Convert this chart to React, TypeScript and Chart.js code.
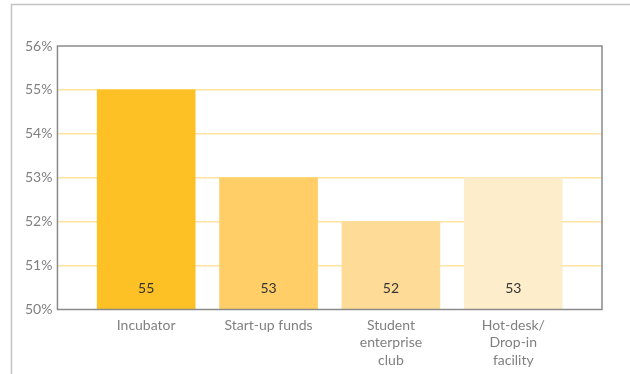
import React, { useEffect, useRef } from "react";
import { Chart, registerables } from "chart.js";

Chart.register(...registerables);

const categories: (string | string[])[] = [
  "Incubator",
  "Start-up funds",
  ["Student", "enterprise", "club"],
  ["Hot-desk/", "Drop-in", "facility"],
];
const values = [55, 53, 52, 53];
const barColors = ["#FDC125", "#FFCE66", "#FEDC98", "#FEEDCA"];
const yTicks = [50, 51, 52, 53, 54, 55, 56];

const FONT = "Lato, 'Open Sans', sans-serif";

const framePlugin = {
  id: "frame",
  beforeDraw(chart: any) {
    const ctx = chart.ctx;
    ctx.save();
    ctx.strokeStyle = "#c4c4c4";
    ctx.lineWidth = 1.5;
    ctx.beginPath();
    ctx.moveTo(11.5, chart.height);
    ctx.lineTo(11.5, 4.5);
    ctx.lineTo(chart.width, 4.5);
    ctx.stroke();
    ctx.restore();
  },
  afterDatasetsDraw(chart: any) {
    const ctx = chart.ctx;
    const a = chart.chartArea;
    ctx.save();
    ctx.strokeStyle = "#8a8a8a";
    ctx.lineWidth = 1.5;
    ctx.strokeRect(a.left, a.top, a.right - a.left, a.bottom - a.top);
    const meta = chart.getDatasetMeta(0);
    ctx.fillStyle = "#333333";
    ctx.font = `14px ${FONT}`;
    ctx.textAlign = "center";
    ctx.textBaseline = "middle";
    meta.data.forEach((bar: any, i: number) => {
      ctx.fillText(String(values[i]), bar.x, a.bottom - 21);
    });
    ctx.restore();
  },
};

export default function App() {
  const ref = useRef<HTMLCanvasElement>(null);
  useEffect(() => {
    document.body.style.margin = "0";
    const chart = new Chart(ref.current!, {
      type: "bar",
      data: {
        datasets: [
          {
            data: values.map((v, i) => ({ x: i, y: v })),
            backgroundColor: barColors,
            barThickness: 98,
            borderWidth: 0,
          },
        ],
      },
      options: {
        animation: false,
        responsive: true,
        maintainAspectRatio: false,
        layout: { padding: { top: 46, right: 28, bottom: -2, left: 20 } },
        plugins: { legend: { display: false }, tooltip: { enabled: false } },
        scales: {
          x: {
            type: "linear",
            offset: false,
            min: -0.725,
            max: 3.725,
            afterBuildTicks: (scale: any) => {
              scale.ticks = categories.map((_, i) => ({ value: i }));
            },
            grid: { display: false, drawTicks: false },
            border: { display: false },
            ticks: {
              autoSkip: false,
              maxRotation: 0,
              padding: 7,
              color: "#808080",
              font: { family: FONT, size: 14, lineHeight: 1.25 },
              callback: (v: any) => categories[Math.round(v)] as any,
            },
          },
          y: {
            min: 50,
            max: 56,
            afterBuildTicks: (scale: any) => {
              scale.ticks = yTicks.map((v) => ({ value: v }));
            },
            grid: {
              color: (c: any) =>
                c.tick && (c.tick.value === 50 || c.tick.value === 56) ? "rgba(0,0,0,0)" : "#FEE3A2",
              lineWidth: 1.5,
              drawTicks: false,
            },
            border: { display: false },
            ticks: {
              padding: 5,
              color: "#808080",
              font: { family: FONT, size: 14 },
              callback: (v: any) => `${v}%`,
            },
          },
        },
      },
      plugins: [framePlugin],
    } as any);
    return () => chart.destroy();
  }, []);
  return (
    <div style={{ width: 630, height: 374, position: "relative" }}>
      <canvas ref={ref} />
    </div>
  );
}
